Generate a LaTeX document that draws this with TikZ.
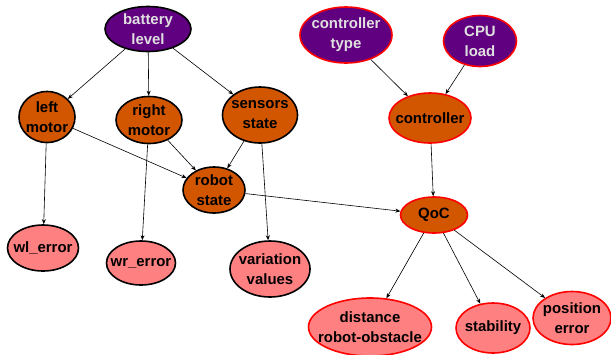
\documentclass[tikz,border=0pt]{standalone}
\usepackage{fontspec}
\setmainfont{Liberation Sans}
\usetikzlibrary{shapes.geometric,arrows.meta}
\definecolor{nodepurple}{RGB}{96,0,128}
\definecolor{nodeorange}{RGB}{210,85,0}
\definecolor{nodepink}{RGB}{255,128,128}
\tikzset{basic/.style={draw=black,line width=1.6bp,ellipse,inner sep=-9bp,
                       align=center,font=\fontsize{15}{20}\selectfont\bfseries}}
\tikzset{root/.style={basic,fill=nodepurple,text=white!88!black}}
\tikzset{mid/.style={basic,fill=nodeorange}}
\tikzset{leaf/.style={basic,fill=nodepink}}
\tikzset{qos/.style={draw=red}}
\tikzset{size/.style 2 args={minimum width=#1bp,minimum height=#2bp}}
\tikzset{link/.style={-{Stealth[length=5bp,width=4bp]},line width=0.6bp}}

\begin{document}
\begin{tikzpicture}[x=1bp,y=-1bp]
    \useasboundingbox (0,0) rectangle (611,354);
    % robot side
    \node[root,size={86}{45}] (battery) at (148,29) {battery\\level};
    \node[mid,size={56}{51}] (lmotor) at (47,117) {left\\motor};
    \node[mid,size={66}{47}] (rmotor) at (149,120) {right\\motor};
    \node[mid,size={75}{56}] (sensors) at (260,115) {sensors\\state};
    \node[mid,size={62}{46}] (robot) at (214,190) {robot\\state};
    \node[leaf,size={71}{46}] (wlerr) at (43,248) {wl\_error};
    \node[leaf,size={69}{44}] (wrerr) at (141,263) {wr\_error};
    \node[leaf,size={80}{56}] (variation) at (270,269) {variation\\values};
    % controller side
    \node[root,qos,size={92}{56}] (ctype) at (346,35) {controller\\type};
    \node[root,qos,size={73}{51}] (cpu) at (480,41) {CPU\\load};
    \node[mid,qos,size={82}{50}] (controller) at (430,118) {controller};
    \node[mid,qos,size={67}{36}] (qoc) at (434,215) {QoC};
    \node[leaf,qos,size={123}{58}] (distance) at (370,327) {distance\\robot-obstacle};
    \node[leaf,qos,size={74}{50}] (stability) at (493,328) {stability};
    \node[leaf,qos,size={78}{53}] (position) at (572,318) {position\\error};
    % Links
    \foreach \a/\b in {battery/lmotor,battery/rmotor,battery/sensors,
                       lmotor/wlerr,lmotor/robot,rmotor/wrerr,rmotor/robot,
                       sensors/robot,sensors/variation,robot/qoc,
                       ctype/controller,cpu/controller,controller/qoc,
                       qoc/distance,qoc/stability,qoc/position}{%
          \draw[link] (\a) -- (\b);
        }
\end{tikzpicture}
\end{document}
